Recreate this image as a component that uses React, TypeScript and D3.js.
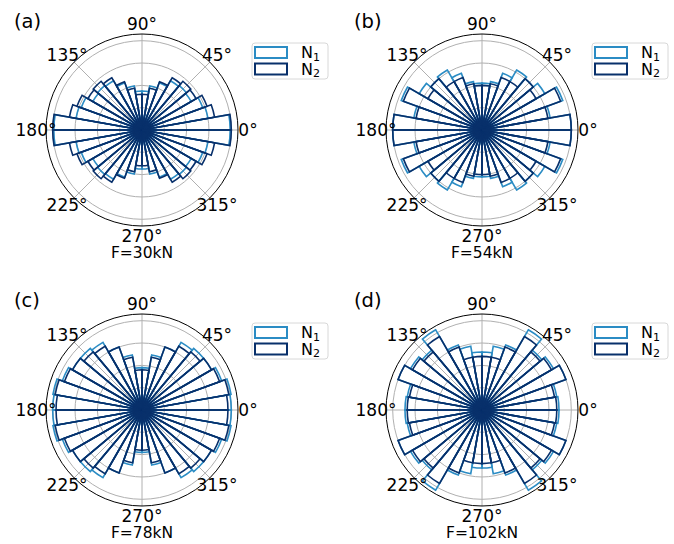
import React, { useEffect, useRef } from 'react';
import * as d3 from 'd3';

// bin start angles (deg), 10 deg wide bins
const binStarts = d3.range(0, 360, 10);

// values, in grid units (rings at 1..4)
const n1A = [3.95, 3.0, 2.9, 2.55, 2.6, 2.55, 2.25, 2.0, 1.75, 1.75, 2.0, 2.25, 2.55, 2.6, 2.55, 2.9, 3.0, 3.95,
  3.95, 3.0, 2.9, 2.55, 2.6, 2.55, 2.25, 2.0, 1.75, 1.75, 2.0, 2.25, 2.55, 2.6, 2.55, 2.9, 3.0, 3.95];
const n2A = [4.0, 3.3, 3.1, 2.8, 2.85, 2.7, 2.3, 1.9, 1.6, 1.6, 1.9, 2.3, 2.7, 2.85, 2.8, 3.1, 3.3, 4.0,
  4.0, 3.3, 3.1, 2.8, 2.85, 2.7, 2.3, 1.9, 1.6, 1.6, 1.9, 2.3, 2.7, 2.85, 2.8, 3.1, 3.3, 4.0];
const n1B = [4.0, 3.1, 3.85, 3.25, 3.0, 3.1, 2.7, 2.2, 2.1, 2.1, 2.2, 2.7, 3.1, 3.0, 3.25, 3.85, 3.1, 4.0,
  4.0, 3.1, 3.85, 3.25, 3.0, 3.1, 2.7, 2.2, 2.1, 2.1, 2.2, 2.7, 3.1, 3.0, 3.25, 3.85, 3.1, 4.0];
const n2B = [4.0, 3.0, 3.75, 2.8, 3.0, 2.5, 2.5, 2.1, 2.0, 2.0, 2.1, 2.5, 2.5, 3.0, 2.8, 3.75, 3.0, 4.0,
  4.0, 3.0, 3.75, 2.8, 3.0, 2.5, 2.5, 2.1, 2.0, 2.0, 2.1, 2.5, 2.5, 3.0, 2.8, 3.75, 3.0, 4.0];
const n1C = [4.0, 4.05, 3.8, 3.6, 3.6, 3.5, 3.0, 2.5, 1.9, 1.9, 2.5, 3.0, 3.5, 3.6, 3.6, 3.8, 4.05, 4.0,
  4.0, 4.05, 3.8, 3.6, 3.6, 3.5, 3.0, 2.5, 1.9, 1.9, 2.5, 3.0, 3.5, 3.6, 3.6, 3.8, 4.05, 4.0];
const n2C = [3.85, 3.95, 3.7, 3.6, 3.4, 3.3, 3.0, 2.4, 1.8, 1.8, 2.4, 3.0, 3.3, 3.4, 3.6, 3.7, 3.95, 3.85,
  3.85, 3.95, 3.7, 3.6, 3.4, 3.3, 3.0, 2.4, 1.8, 1.8, 2.4, 3.0, 3.3, 3.4, 3.6, 3.7, 3.95, 3.85];
const n1D = [3.45, 3.4, 4.0, 3.7, 3.5, 4.15, 3.1, 2.9, 2.6, 2.6, 2.9, 3.1, 4.15, 3.5, 3.7, 4.0, 3.4, 3.45,
  3.45, 3.4, 4.0, 3.7, 3.5, 4.15, 3.1, 2.9, 2.6, 2.6, 2.9, 3.1, 4.15, 3.5, 3.7, 4.0, 3.4, 3.45];
const n2D = [3.35, 3.3, 4.0, 3.6, 3.4, 3.8, 3.0, 2.4, 2.4, 2.4, 2.4, 3.0, 3.8, 3.4, 3.6, 4.0, 3.3, 3.35,
  3.35, 3.3, 4.0, 3.6, 3.4, 3.8, 3.0, 2.4, 2.4, 2.4, 2.4, 3.0, 3.8, 3.4, 3.6, 4.0, 3.3, 3.35];

const panelLabels = ['(a)', '(b)', '(c)', '(d)'];
const forceLabels = ['F=30kN', 'F=54kN', 'F=78kN', 'F=102kN'];
const thetaTicks = [0, 45, 90, 135, 180, 225, 270, 315];
const rTicks = [1, 2, 3, 4];
const rMax = 4.3;

const panels = [
  { n1: n1A, n2: n2A },
  { n1: n1B, n2: n2B },
  { n1: n1C, n2: n2C },
  { n1: n1D, n2: n2D },
];

const C1 = '#2b8cc4';
const C2 = '#08306b';

const App: React.FC = () => {
  const ref = useRef<SVGSVGElement | null>(null);

  useEffect(() => {
    const svg = d3.select(ref.current);
    svg.selectAll('*').remove();

    const R = 96;
    const r = d3.scaleLinear().domain([0, rMax]).range([0, R]);
    const font = 'DejaVu Sans, sans-serif';

    panels.forEach((p, i) => {
      const cx = 142 + (i % 2) * 340;
      const cy = 130 + Math.floor(i / 2) * 280;
      const g = svg.append('g').attr('transform', `translate(${cx},${cy})`);

      // grid
      g.selectAll('circle.grid')
        .data(rTicks)
        .enter()
        .append('circle')
        .attr('r', (d) => r(d))
        .attr('fill', 'none')
        .attr('stroke', '#b0b0b0')
        .attr('stroke-width', 1);
      g.selectAll('line.grid')
        .data(thetaTicks)
        .enter()
        .append('line')
        .attr('x1', 0)
        .attr('y1', 0)
        .attr('x2', (d) => R * Math.cos((d * Math.PI) / 180))
        .attr('y2', (d) => -R * Math.sin((d * Math.PI) / 180))
        .attr('stroke', '#b0b0b0')
        .attr('stroke-width', 1);

      const arc = d3.arc<{ t: number; v: number }>()
        .innerRadius(0)
        .outerRadius((d) => r(d.v))
        .startAngle((d) => Math.PI / 2 - ((d.t + 10) * Math.PI) / 180)
        .endAngle((d) => Math.PI / 2 - (d.t * Math.PI) / 180);

      [
        { vals: p.n1, color: C1 },
        { vals: p.n2, color: C2 },
      ].forEach((s) => {
        g.append('g')
          .selectAll('path')
          .data(binStarts.map((t, k) => ({ t, v: s.vals[k] })))
          .enter()
          .append('path')
          .attr('d', (d) => arc(d) as string)
          .attr('fill', 'none')
          .attr('stroke', s.color)
          .attr('stroke-width', 1.6);
      });

      // outer spine
      g.append('circle')
        .attr('r', R)
        .attr('fill', 'none')
        .attr('stroke', '#000')
        .attr('stroke-width', 1);

      // theta labels
      g.selectAll('text.theta')
        .data(thetaTicks)
        .enter()
        .append('text')
        .attr('x', (d) => (R + 10) * Math.cos((d * Math.PI) / 180))
        .attr('y', (d) => -(R + 10) * Math.sin((d * Math.PI) / 180))
        .attr('text-anchor', 'middle')
        .attr('dominant-baseline', 'central')
        .attr('font-family', font)
        .attr('font-size', 17)
        .text((d) => `${d}°`);

      g.append('text')
        .attr('x', 0)
        .attr('y', 128)
        .attr('text-anchor', 'middle')
        .attr('font-family', font)
        .attr('font-size', 15.5)
        .text(forceLabels[i]);

      svg.append('text')
        .attr('x', 14 + (i % 2) * 340)
        .attr('y', 28 + Math.floor(i / 2) * 279)
        .attr('font-family', font)
        .attr('font-size', 19.5)
        .text(panelLabels[i]);

      // legend
      const lg = svg.append('g').attr('transform', `translate(${cx + 110},${cy - 87})`);
      lg.append('rect')
        .attr('x', 0)
        .attr('y', 0)
        .attr('width', 76)
        .attr('height', 36)
        .attr('rx', 3)
        .attr('fill', 'white')
        .attr('fill-opacity', 0.8)
        .attr('stroke', '#d8d8d8');
      [
        { c: C1, sub: '1' },
        { c: C2, sub: '2' },
      ].forEach((e, k) => {
        lg.append('rect')
          .attr('x', 3)
          .attr('y', 4 + k * 16.5)
          .attr('width', 32)
          .attr('height', 11)
          .attr('fill', 'white')
          .attr('stroke', e.c)
          .attr('stroke-width', 2);
        const t = lg.append('text')
          .attr('x', 49)
          .attr('y', 15 + k * 16.5)
          .attr('font-family', font)
          .attr('font-size', 16);
        t.append('tspan').text('N');
        t.append('tspan').attr('font-size', 11).attr('dy', 2.5).text(e.sub);
      });
    });
  }, []);

  return (
    <svg
      ref={ref}
      width={674}
      height={544}
      style={{ position: 'absolute', left: 0, top: 0, background: 'white' }}
    />
  );
};

export default App;
